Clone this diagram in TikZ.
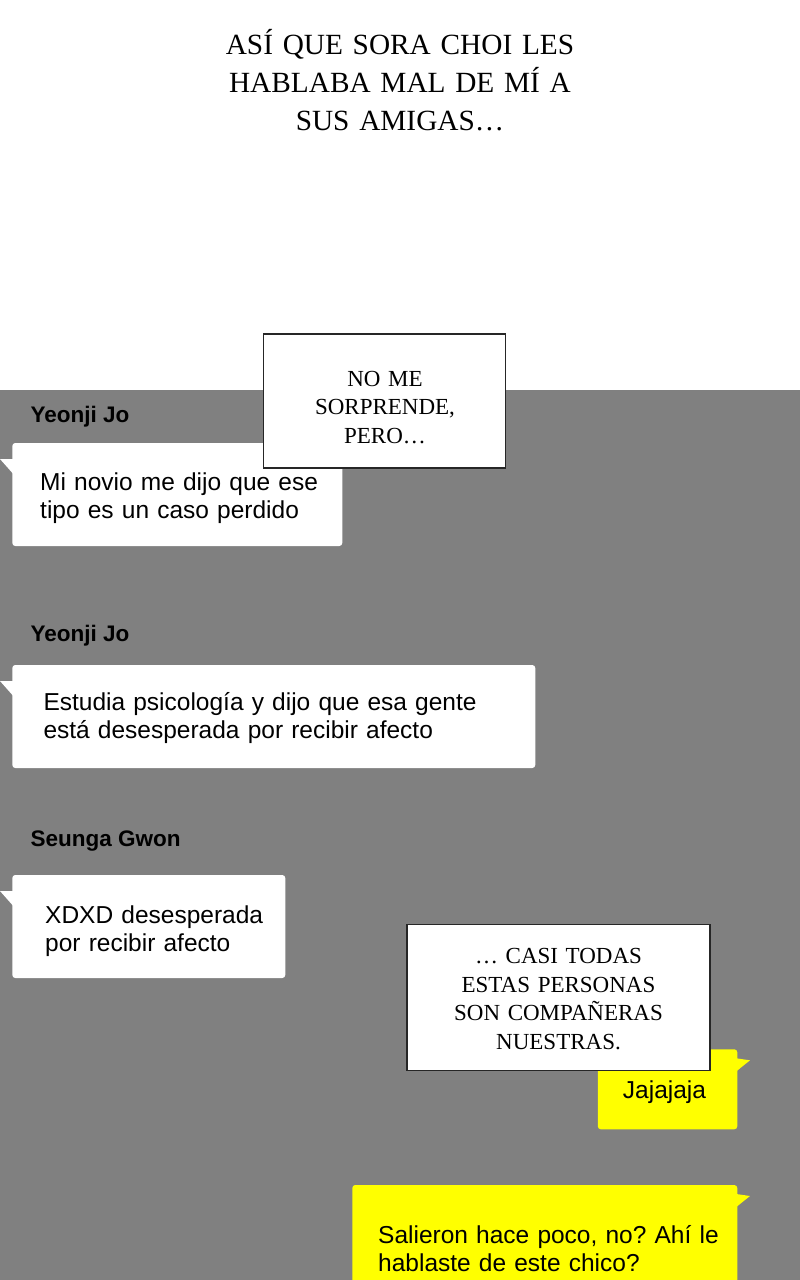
\documentclass[tikz,border=0pt]{standalone}
\usepackage{fontspec}
\setmainfont{Liberation Serif}
\setsansfont{Liberation Sans}
\usetikzlibrary{calc}
\definecolor{bggray}{RGB}{128,128,128}
\definecolor{chatyellow}{RGB}{255,255,0}
\frenchspacing
\begin{document}
\begin{tikzpicture}[x=1pt,y=-1pt,
  bubble/.style={fill=white, rounded corners=3pt, inner sep=0pt, outer sep=0pt, anchor=north west},
  ybubble/.style={bubble, fill=chatyellow},
  capbox/.style={draw=black!85, line width=1.5pt, fill=white, inner sep=0pt, outer sep=0pt, anchor=north west},
  chattext/.style={font=\sffamily\fontsize{24.5}{28}\selectfont, text width=480pt, align=left, inner sep=0pt, anchor=base west, text=black},
  chatname/.style={font=\sffamily\bfseries\fontsize{22.5}{24}\selectfont, inner sep=0pt, anchor=base west, text=black},
  captext/.style={font=\fontsize{23}{28.5}\selectfont, text width=300pt, align=center, inner sep=0pt, anchor=base},
  titletext/.style={font=\fontsize{29.3}{38}\selectfont, text width=600pt, align=center, inner sep=0pt, anchor=base}
]
\useasboundingbox (0,0) rectangle (800,1280);
\fill[white] (0,0) rectangle (800,1280);
\fill[bggray] (0,390) rectangle (800,1280);

% title
\node[titletext] (title) at (400,54) {ASÍ QUE SORA CHOI LES\\HABLABA MAL DE MÍ A\\SUS AMIGAS…};

% bubble 1
\node[bubble, minimum width=330pt, minimum height=103pt] (b1) at (12.3,443) {};
\fill[white] ($(b1.north west)+(1,16)$) -- ($(b1.north west)+(-12.3,16)$) -- ($(b1.north west)+(1,31)$) -- cycle;
\node[chatname] (n1) at (30.5,422.7) {Yeonji Jo};
\node[chattext] (t1) at (40,490.7) {Mi novio me dijo que ese\\tipo es un caso perdido};

% caption box 1
\node[capbox, minimum width=242pt, minimum height=134pt] (c1) at (263.5,334) {};
\node[captext] (ct1) at (385,386) {NO ME\\SORPRENDE,\\PERO…};

% bubble 2
\node[chatname] (n2) at (30.5,641.5) {Yeonji Jo};
\node[bubble, minimum width=523pt, minimum height=103pt] (b2) at (12.3,665) {};
\fill[white] ($(b2.north west)+(1,16)$) -- ($(b2.north west)+(-12.3,16)$) -- ($(b2.north west)+(1,31)$) -- cycle;
\node[chattext] (t2) at (43.3,710) {Estudia psicología y dijo que esa gente\\está desesperada por recibir afecto};

% bubble 3
\node[chatname] (n3) at (30.5,846.7) {Seunga Gwon};
\node[bubble, minimum width=273pt, minimum height=103pt] (b3) at (12.3,875) {};
\fill[white] ($(b3.north west)+(1,16)$) -- ($(b3.north west)+(-12.3,16)$) -- ($(b3.north west)+(1,31)$) -- cycle;
\node[chattext] (t3) at (45,923.5) {XDXD desesperada\\por recibir afecto};

% yellow bubble 1
\node[ybubble, minimum width=139.5pt, minimum height=80pt] (y1) at (597.8,1049.3) {};
\fill[chatyellow] ($(y1.north east)+(-1,9)$) -- ($(y1.north east)+(12.7,11)$) -- ($(y1.north east)+(-1,22)$) -- cycle;
\node[font=\sffamily\fontsize{24.5}{28}\selectfont, inner sep=0pt, anchor=base, text=black] (yt1) at (664.5,1098.3) {Jajajaja};

% caption box 2
\node[capbox, minimum width=303pt, minimum height=146pt] (c2) at (407,924.5) {};
\node[captext] (ct2) at (558.5,963.5) {… CASI TODAS\\ESTAS PERSONAS\\SON COMPAÑERAS\\NUESTRAS.};

% yellow bubble 2
\node[ybubble, minimum width=385pt, minimum height=110pt] (y2) at (352.3,1185) {};
\fill[chatyellow] ($(y2.north east)+(-1,9)$) -- ($(y2.north east)+(12.7,11)$) -- ($(y2.north east)+(-1,22)$) -- cycle;
\node[chattext] (yt2) at (378,1243.3) {Salieron hace poco, no? Ahí le\\hablaste de este chico?};
\end{tikzpicture}
\end{document}
